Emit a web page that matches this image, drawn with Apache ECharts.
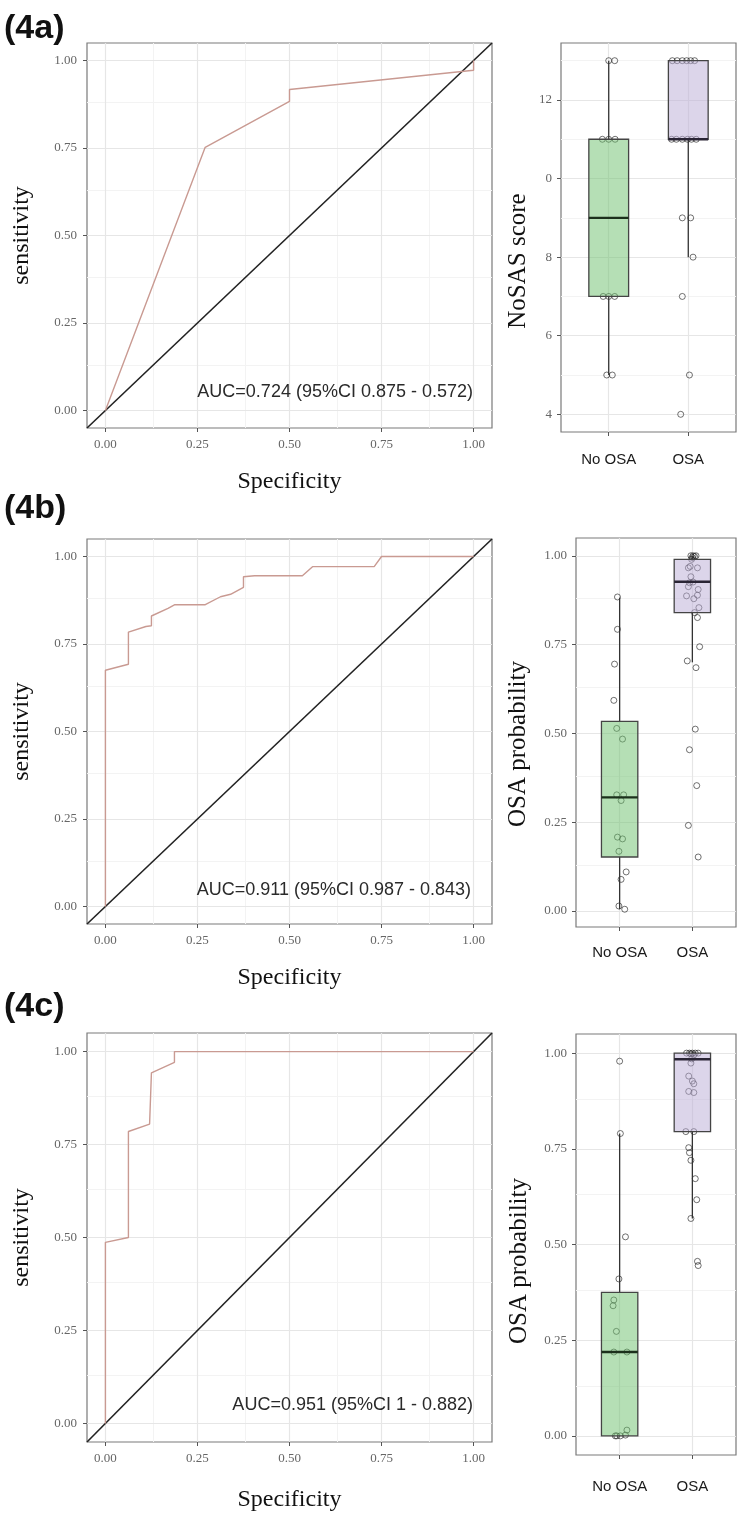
<!DOCTYPE html>
<html><head><meta charset="utf-8">
<script src="https://cdn.jsdelivr.net/npm/echarts@6/dist/echarts.min.js"></script>
<style>html,body{margin:0;padding:0;background:#fff}#c{width:747px;height:1533px}</style>
</head><body><div id="c"></div>
<script>
// ---------- data ----------
const panelLabels = ['(4a)', '(4b)', '(4c)'];
const aucLabels = ['AUC=0.724 (95%CI 0.875 - 0.572)', 'AUC=0.911 (95%CI 0.987 - 0.843)', 'AUC=0.951 (95%CI 1 - 0.882)'];
const rocTicks = [0, 0.25, 0.5, 0.75, 1];
const rocMinor = [0.125, 0.375, 0.625, 0.875];
const diagonal = [[-0.05, -0.05], [1.05, 1.05]];
const roc4a = [[0, 0], [0.271, 0.752], [0.5, 0.883], [0.5, 0.917], [1, 0.972], [1, 1]];
const roc4b = [[0, 0], [0, 0.675], [0.0625, 0.692], [0.0625, 0.784], [0.11, 0.8], [0.125, 0.802], [0.125, 0.83], [0.17, 0.852], [0.1875, 0.862], [0.27, 0.862], [0.3125, 0.885], [0.34, 0.892], [0.375, 0.912], [0.375, 0.942], [0.405, 0.945], [0.535, 0.945], [0.5625, 0.971], [0.73, 0.971], [0.75, 1], [1, 1]];
const roc4c = [[0, 0], [0, 0.487], [0.0625, 0.5], [0.0625, 0.785], [0.12, 0.805], [0.125, 0.805], [0.125, 0.943], [0.1875, 0.971], [0.1875, 1], [1, 1]];

const boxCategories = ['No OSA', 'OSA'];
const boxCatPos = [1, 2];
const scoreTicks = [4, 6, 8, 10, 12];
const scoreTickLabels = ['4', '6', '8', '0', '12'];
const scoreMinor = [5, 7, 9, 11, 13];
const probTicks = [0, 0.25, 0.5, 0.75, 1];
const probMinor = [0.125, 0.375, 0.625, 0.875];

// [position, lower whisker, Q1, median, Q3, upper whisker]
const box4a = [[1, 5, 7, 9, 11, 13], [2, 8, 11, 11, 13, 13]];
const box4b = [[1, 0.005, 0.152, 0.32, 0.534, 0.882], [2, 0.70, 0.84, 0.927, 0.99, 1.0]];
const box4c = [[1, 0, 0, 0.219, 0.375, 0.79], [2, 0.568, 0.795, 0.984, 1.0, 1.0]];

// jittered observations [position, value]
const pts4aNo = [[1.0, 13], [1.075, 13], [0.92, 11], [1.0, 11], [1.08, 11], [0.93, 7], [1.0, 7], [1.075, 7], [0.975, 5], [1.045, 5]];
const pts4aOsa = [[1.8, 13], [1.86, 13], [1.925, 13], [1.98, 13], [2.03, 13], [2.08, 13], [1.79, 11], [1.85, 11], [1.925, 11], [1.99, 11], [2.04, 11], [2.1, 11], [1.925, 9], [2.03, 9], [2.06, 8], [1.925, 7], [2.015, 5], [1.905, 4]];
const pts4bNo = [[0.97, 0.884], [0.97, 0.793], [0.93, 0.695], [0.92, 0.593], [0.96, 0.514], [1.04, 0.484], [0.96, 0.327], [1.055, 0.327], [1.02, 0.311], [0.97, 0.208], [1.04, 0.203], [0.99, 0.168], [1.09, 0.11], [1.02, 0.089], [0.99, 0.014], [1.07, 0.005]];
const pts4bOsa = [[1.98, 1.0], [2.01, 1.0], [2.05, 1.0], [1.99, 0.99], [2.0, 0.995], [2.03, 0.998], [1.97, 0.97], [1.945, 0.966], [2.07, 0.966], [1.98, 0.941], [1.96, 0.924], [1.945, 0.913], [2.01, 0.926], [2.08, 0.905], [1.92, 0.887], [2.02, 0.879], [2.07, 0.889], [2.09, 0.854], [2.03, 0.84], [2.07, 0.826], [2.1, 0.744], [1.93, 0.704], [2.05, 0.685], [2.04, 0.512], [1.96, 0.454], [2.06, 0.353], [1.945, 0.241], [2.08, 0.152]];
const pts4cNo = [[1.0, 0.979], [1.01, 0.79], [1.08, 0.52], [0.99, 0.41], [0.92, 0.355], [0.91, 0.34], [0.955, 0.273], [0.92, 0.219], [1.1, 0.219], [0.94, 0.0], [0.96, 0.0], [1.01, 0.0], [1.08, 0.002], [1.1, 0.015]];
const pts4cOsa = [[1.92, 1.0], [1.96, 1.0], [2.0, 1.0], [2.04, 1.0], [2.08, 1.0], [1.98, 0.998], [2.02, 0.995], [1.99, 0.985], [1.98, 0.974], [1.95, 0.94], [2.0, 0.927], [2.02, 0.92], [1.95, 0.9], [2.02, 0.897], [1.91, 0.795], [2.02, 0.795], [1.95, 0.753], [1.96, 0.74], [1.98, 0.72], [2.04, 0.672], [2.06, 0.617], [1.98, 0.568], [2.07, 0.456], [2.08, 0.445]];

// ---------- styling ----------
const SERIF = '"Liberation Serif", "Times New Roman", serif';
const SANS = '"Liberation Sans", Arial, sans-serif';
const MAJOR = '#e6e6e6', MINORC = '#f3f3f3';
const boxFills = ['rgba(107,191,107,0.5)', 'rgba(185,171,213,0.5)'];
const medianColors = ['#1c301c', '#2a2535'];

const grids = [
  {left: 87, top: 43, width: 405, height: 385},
  {left: 561, top: 43, width: 175, height: 389},
  {left: 87, top: 539, width: 405, height: 385},
  {left: 576, top: 538, width: 160, height: 389},
  {left: 87, top: 1033, width: 405, height: 409},
  {left: 576, top: 1034, width: 160, height: 421}
].map(g => Object.assign(g, {show: true, borderColor: '#7a7a7a', borderWidth: 1.2, backgroundColor: 'transparent', containLabel: false}));

const tickStyle = {show: true, length: 4, lineStyle: {color: '#555', width: 1}};
const numLabel = {color: '#666', fontFamily: SERIF, fontSize: 13};
const noLine = {show: false, onZero: false};

function rocX(gi, gap) {
  return {gridIndex: gi, type: 'value', position: 'bottom', min: -0.05, max: 1.05,
    axisLine: noLine, splitLine: {show: false},
    axisTick: Object.assign({customValues: rocTicks}, tickStyle),
    axisLabel: Object.assign({customValues: rocTicks, margin: 10, formatter: v => v.toFixed(2)}, numLabel),
    name: 'Specificity', nameLocation: 'middle', nameGap: gap,
    nameTextStyle: {fontFamily: SERIF, fontSize: 24, color: '#111'}};
}
function rocY(gi) {
  return {gridIndex: gi, type: 'value', position: 'left', min: -0.05, max: 1.05,
    axisLine: noLine, splitLine: {show: false},
    axisTick: Object.assign({customValues: rocTicks}, tickStyle),
    axisLabel: Object.assign({customValues: rocTicks, margin: 10, formatter: v => v.toFixed(2)}, numLabel),
    name: 'sensitivity', nameLocation: 'middle', nameGap: 53,
    nameTextStyle: {fontFamily: SERIF, fontSize: 24, color: '#111'}};
}
function boxX(gi, margin) {
  return {gridIndex: gi, type: 'value', position: 'bottom', min: 0.4, max: 2.6,
    axisLine: noLine, splitLine: {show: false},
    axisTick: Object.assign({customValues: boxCatPos}, tickStyle),
    axisLabel: {customValues: boxCatPos, margin: margin, color: '#1a1a1a', fontFamily: SANS, fontSize: 15,
      formatter: v => boxCategories[boxCatPos.indexOf(Math.round(v))]}};
}
function boxY(gi, min, max, ticks, labels) {
  return {gridIndex: gi, type: 'value', position: 'left', min: min, max: max,
    axisLine: noLine, splitLine: {show: false},
    axisTick: Object.assign({customValues: ticks}, tickStyle),
    axisLabel: Object.assign({customValues: ticks, margin: 9,
      formatter: v => labels ? labels[ticks.indexOf(v)] : v.toFixed(2)}, numLabel)};
}

function gridSeries(gi, xMajor, xMinor, yMajor, yMinor) {
  const d = [];
  xMinor.forEach(v => d.push({xAxis: v, lineStyle: {color: MINORC, width: 1, type: 'solid'}}));
  yMinor.forEach(v => d.push({yAxis: v, lineStyle: {color: MINORC, width: 1, type: 'solid'}}));
  xMajor.forEach(v => d.push({xAxis: v, lineStyle: {color: MAJOR, width: 1.2, type: 'solid'}}));
  yMajor.forEach(v => d.push({yAxis: v, lineStyle: {color: MAJOR, width: 1.2, type: 'solid'}}));
  return {type: 'line', xAxisIndex: gi, yAxisIndex: gi, data: [], z: 0, silent: true,
    markLine: {z: 0, silent: true, symbol: ['none', 'none'], label: {show: false}, animation: false, data: d}};
}

function rocSeries(gi, curve) {
  return [
    {type: 'line', xAxisIndex: gi, yAxisIndex: gi, data: diagonal, symbol: 'none', z: 3,
      lineStyle: {color: '#222', width: 1.6}},
    {type: 'line', xAxisIndex: gi, yAxisIndex: gi, data: curve, symbol: 'none', z: 4,
      lineStyle: {color: '#c99a92', width: 1.4}}
  ];
}

function boxSeries(gi, stats) {
  return {type: 'custom', xAxisIndex: gi, yAxisIndex: gi, z: 5, data: stats,
    encode: {x: 0, y: [1, 2, 3, 4, 5]},
    renderItem: function (params, api) {
      const x = api.value(0), lo = api.value(1), q1 = api.value(2), med = api.value(3), q3 = api.value(4), hi = api.value(5);
      const i = params.dataIndex;
      const tl = api.coord([x - 0.25, q3]), br = api.coord([x + 0.25, q1]);
      const mL = api.coord([x - 0.25, med]), mR = api.coord([x + 0.25, med]);
      const pLo = api.coord([x, lo]), pHi = api.coord([x, hi]), pQ1 = api.coord([x, q1]), pQ3 = api.coord([x, q3]);
      return {type: 'group', children: [
        {type: 'line', shape: {x1: pHi[0], y1: pHi[1], x2: pQ3[0], y2: pQ3[1]}, style: {stroke: '#333', lineWidth: 1.3}},
        {type: 'line', shape: {x1: pLo[0], y1: pLo[1], x2: pQ1[0], y2: pQ1[1]}, style: {stroke: '#333', lineWidth: 1.3}},
        {type: 'rect', shape: {x: tl[0], y: tl[1], width: br[0] - tl[0], height: br[1] - tl[1]},
          style: {fill: boxFills[i], stroke: '#444', lineWidth: 1.3}},
        {type: 'line', shape: {x1: mL[0], y1: mL[1], x2: mR[0], y2: mR[1]}, style: {stroke: medianColors[i], lineWidth: 2.4}}
      ]};
    }};
}

function ptsSeries(gi, pts) {
  return {type: 'scatter', xAxisIndex: gi, yAxisIndex: gi, data: pts, z: 4, symbol: 'circle', symbolSize: 6,
    itemStyle: {color: 'rgba(255,255,255,0)', borderColor: 'rgba(25,25,25,0.85)', borderWidth: 0.9}};
}

const series = [
  gridSeries(0, rocTicks, rocMinor, rocTicks, rocMinor), ...rocSeries(0, roc4a),
  gridSeries(1, boxCatPos, [], scoreTicks, scoreMinor), ptsSeries(1, pts4aNo), ptsSeries(1, pts4aOsa), boxSeries(1, box4a),
  gridSeries(2, rocTicks, rocMinor, rocTicks, rocMinor), ...rocSeries(2, roc4b),
  gridSeries(3, boxCatPos, [], probTicks, probMinor), ptsSeries(3, pts4bNo), ptsSeries(3, pts4bOsa), boxSeries(3, box4b),
  gridSeries(4, rocTicks, rocMinor, rocTicks, rocMinor), ...rocSeries(4, roc4c),
  gridSeries(5, boxCatPos, [], probTicks, probMinor), ptsSeries(5, pts4cNo), ptsSeries(5, pts4cOsa), boxSeries(5, box4c)
];

const panelY = [29, 509, 1007];
const aucPos = [[473, 392], [471, 890], [473, 1405]];
const boxTitles = [['NoSAS score', 518, 261], ['OSA probability', 518, 744], ['OSA probability', 519, 1261]];
const graphic = [];
panelLabels.forEach((t, i) => graphic.push({type: 'text', x: 4, y: panelY[i], z: 10,
  style: {text: t, font: 'bold 34px ' + SANS, fill: '#111', align: 'left', verticalAlign: 'middle'}}));
aucLabels.forEach((t, i) => graphic.push({type: 'text', x: aucPos[i][0], y: aucPos[i][1], z: 10,
  style: {text: t, font: '18px ' + SANS, fill: '#2a2a2a', align: 'right', verticalAlign: 'middle'}}));
boxTitles.forEach(b => graphic.push({type: 'text', x: b[1], y: b[2], rotation: Math.PI / 2, z: 10,
  style: {text: b[0], font: '25px ' + SERIF, fill: '#111', align: 'center', verticalAlign: 'middle'}}));

const chart = echarts.init(document.getElementById('c'), null, {renderer: 'canvas'});
chart.setOption({
  animation: false,
  backgroundColor: '#fff',
  grid: grids,
  xAxis: [rocX(0, 42), boxX(1, 20), rocX(2, 42), boxX(3, 18), rocX(4, 46), boxX(5, 24)],
  yAxis: [rocY(0), boxY(1, 3.55, 13.45, scoreTicks, scoreTickLabels), rocY(2),
    boxY(3, -0.045, 1.05, probTicks, null), rocY(4), boxY(5, -0.05, 1.05, probTicks, null)],
  series: series,
  graphic: graphic
});
</script>
</body></html>
